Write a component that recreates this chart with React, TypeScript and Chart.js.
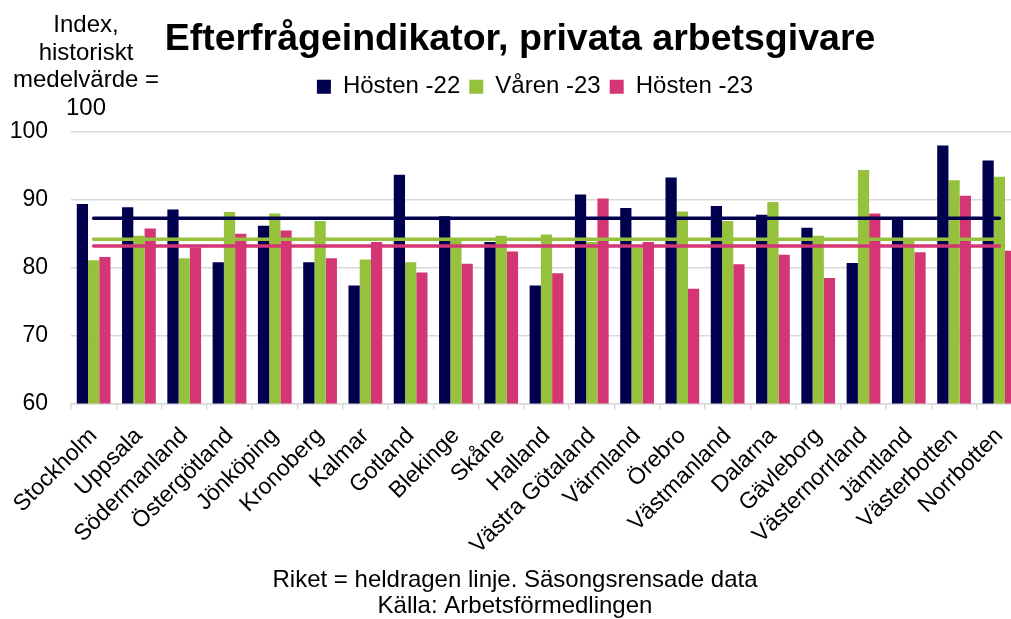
import React, { useEffect, useRef } from "react";
import { Chart, registerables } from "chart.js";

Chart.register(...registerables);

const categories = [
  "Stockholm", "Uppsala", "Södermanland", "Östergötland", "Jönköping", "Kronoberg",
  "Kalmar", "Gotland", "Blekinge", "Skåne", "Halland", "Västra Götaland", "Värmland",
  "Örebro", "Västmanland", "Dalarna", "Gävleborg", "Västernorrland", "Jämtland",
  "Västerbotten", "Norrbotten",
];

const hosten22 = [89.4, 88.9, 88.6, 80.8, 86.2, 80.8, 77.4, 93.7, 87.6, 83.8, 77.4, 90.8, 88.8, 93.3, 89.1, 87.8, 85.9, 80.7, 87.2, 98.0, 95.8];
const varen23 = [81.1, 84.7, 81.4, 88.2, 88.0, 86.9, 81.2, 80.8, 84.0, 84.7, 84.9, 83.8, 82.9, 88.3, 86.9, 89.7, 84.7, 94.4, 84.2, 92.9, 93.4];
const hosten23 = [81.6, 85.8, 83.0, 85.0, 85.5, 81.4, 83.8, 79.3, 80.6, 82.4, 79.2, 90.2, 83.8, 76.9, 80.5, 81.9, 78.5, 88.0, 82.3, 90.6, 82.5];

// Riket (national level) – solid horizontal lines
const riketLevels = [87.3, 84.2, 83.2];

const seriesLabels = ["Hösten -22", "Våren -23", "Hösten -23"];
const seriesColors = ["#00004f", "#95c13d", "#d43575"];

const yTicks = [60, 70, 80, 90, 100];
const titleText = "Efterfrågeindikator, privata arbetsgivare";
const yLabelLines = ["Index,", "historiskt", "medelvärde =", "100"];
const captionLines = ["Riket = heldragen linje. Säsongsrensade data", "Källa: Arbetsförmedlingen"];

const W = 1040;
const H = 619;
const FONT = "'Liberation Sans', Arial, sans-serif";

function shiftDraw(box: any, dx: number) {
  if (!box) return;
  const origDraw = box.draw;
  box.draw = function (...args: any[]) {
    const ctx = this.ctx;
    ctx.save();
    ctx.translate(dx, 0);
    origDraw.apply(this, args);
    ctx.restore();
  };
}

const blockTweak = {
  id: "blockTweak",
  beforeInit(chart: any) {
    const legend = chart.legend;
    if (legend) {
      const origFit = legend.fit;
      legend.fit = function () {
        origFit.call(this);
        this.height += 23.25;
      };
      shiftDraw(legend, 24);
    }
    shiftDraw(chart.titleBlock, 9);
    const sub = (chart.boxes || []).find(
      (b: any) => b !== chart.legend && b !== chart.titleBlock && b.options && b.options.position === "bottom"
    );
    shiftDraw(sub, 4);
  },
};

const yLabelPlugin = {
  id: "yLabelPlugin",
  afterDraw(chart: any) {
    const ctx = chart.ctx;
    ctx.save();
    ctx.font = `24px ${FONT}`;
    ctx.fillStyle = "#000";
    ctx.textAlign = "center";
    ctx.textBaseline = "alphabetic";
    yLabelLines.forEach((t, i) => {
      ctx.fillText(t, 86, 31.7 + i * 27.8);
    });
    ctx.restore();
  },
};

export default function App() {
  const ref = useRef<HTMLCanvasElement | null>(null);

  useEffect(() => {
    document.body.style.margin = "0";
    document.body.style.overflow = "hidden";
    const canvas = ref.current;
    if (!canvas) return;

    const barSets = [hosten22, varen23, hosten23].map((d, i) => ({
      type: "bar" as const,
      label: seriesLabels[i],
      data: d,
      backgroundColor: seriesColors[i],
      borderWidth: 0,
      categoryPercentage: 0.745,
      barPercentage: 1.0,
      order: 2,
    }));
    const lineSets = riketLevels.map((v, i) => ({
      type: "line" as const,
      label: "Riket " + seriesLabels[i],
      data: categories.map(() => v),
      borderColor: seriesColors[i],
      backgroundColor: seriesColors[i],
      borderWidth: 3.5,
      borderCapStyle: "round" as const,
      pointRadius: 0,
      fill: false,
      order: 1,
    }));

    const chart = new Chart(canvas, {
      type: "bar",
      data: { labels: categories, datasets: [...barSets, ...lineSets] as any },
      options: {
        animation: false,
        responsive: false,
        layout: { padding: { left: 0, right: 18, top: 0, bottom: 0 } },
        plugins: {
          title: {
            display: true,
            text: titleText,
            color: "#000",
            font: { family: FONT, size: 37.5, weight: "bold", lineHeight: 1.0 },
            padding: { top: 21.25, bottom: 7 },
          },
          subtitle: {
            display: true,
            position: "bottom",
            text: captionLines,
            color: "#000",
            font: { family: FONT, size: 24, lineHeight: 1.083 },
            padding: { top: 0, bottom: 0 },
          },
          legend: {
            display: true,
            position: "top",
            labels: {
              filter: (item: any) => item.datasetIndex < 3,
              color: "#000",
              font: { family: FONT, size: 24 },
              boxWidth: 14,
              boxHeight: 14,
              padding: 9,
            },
          },
          tooltip: { enabled: false },
        },
        scales: {
          x: {
            offset: true,
            grid: {
              display: true,
              drawOnChartArea: false,
              drawTicks: true,
              tickLength: 6,
              color: "#d9d9d9",
              lineWidth: 1.5,
              offset: true,
            },
            border: { display: true, color: "#d9d9d9", width: 1.5 },
            ticks: {
              autoSkip: false,
              minRotation: 45,
              maxRotation: 45,
              color: "#000",
              font: { family: FONT, size: 23 },
              padding: 13,
            },
            afterFit: (scale: any) => {
              scale.height = 163.5;
            },
          },
          y: {
            min: 60,
            max: 100,
            afterBuildTicks: (scale: any) => {
              scale.ticks = yTicks.map((v) => ({ value: v }));
            },
            grid: { color: "#d9d9d9", lineWidth: 1.5, drawTicks: false },
            border: { display: false },
            ticks: {
              color: "#000",
              font: { family: FONT, size: 23 },
              padding: 23,
            },
            afterFit: (scale: any) => {
              scale.width = 71;
            },
          },
        },
      },
      plugins: [blockTweak, yLabelPlugin],
    });

    return () => chart.destroy();
  }, []);

  return (
    <div style={{ position: "fixed", left: 0, top: 0, width: W, height: H, overflow: "hidden", background: "#fff" }}>
      <canvas ref={ref} width={W} height={H} style={{ display: "block", width: W, height: H }} />
    </div>
  );
}
